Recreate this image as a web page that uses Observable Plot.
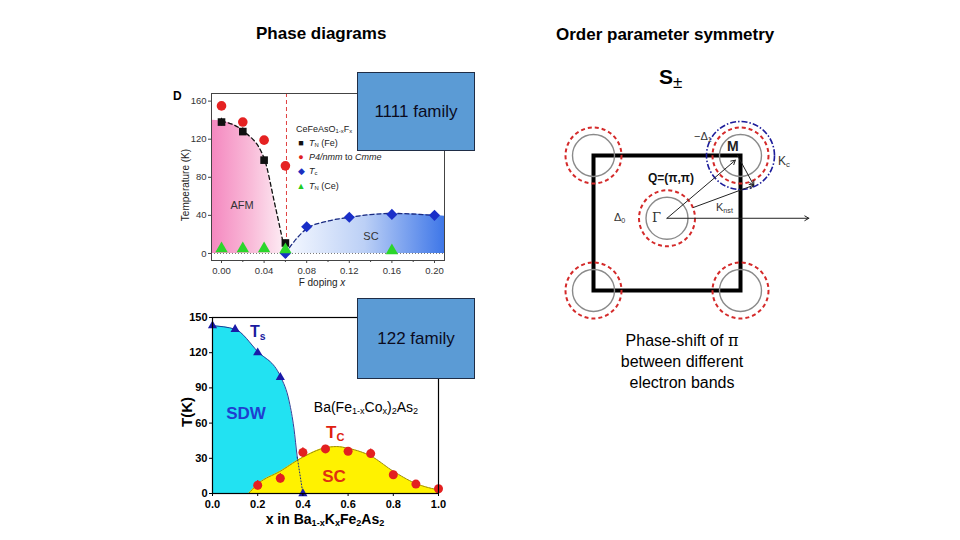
<!DOCTYPE html>
<html><head><meta charset="utf-8">
<script src="https://cdn.jsdelivr.net/npm/d3@7"></script>
<script src="https://cdn.jsdelivr.net/npm/@observablehq/plot@0.6"></script>
<style>
body{margin:0;background:#fff;}
#slide{position:relative;width:960px;height:540px;overflow:hidden;background:#fff;font-family:"Liberation Sans",Arial,sans-serif;color:#000;}
.abs{position:absolute;white-space:nowrap;line-height:1;}
.chart{position:absolute;}
.box{position:absolute;background:#5b9bd5;border:1px solid #1f2d46;box-sizing:border-box;display:flex;align-items:center;justify-content:center;font-size:17px;color:#0b0b1e;z-index:5;}
sub{font-size:65%;vertical-align:-0.25em;line-height:0;}
.lg{position:absolute;font-size:9px;color:#222;white-space:nowrap;line-height:1;}
.sym{display:inline-block;width:10px;text-align:center;margin-right:3px;}
</style></head><body>
<div id="slide">
  <div class="abs" style="left:256px;top:25px;font-size:17px;font-weight:bold;">Phase diagrams</div>
  <div class="abs" style="left:556px;top:26px;font-size:17px;font-weight:bold;">Order parameter symmetry</div>
  <div class="abs" style="left:659px;top:66px;font-size:21px;font-weight:bold;">S<span style="font-size:17px;font-weight:normal;position:relative;top:4px;">±</span></div>

  <div id="topchart" class="chart" style="left:165px;top:80px;"></div>
  <div id="botchart" class="chart" style="left:170px;top:300px;"></div>
  <div id="bzchart" class="chart" style="left:550px;top:100px;"></div>

  <!-- top chart text -->
  <div class="abs" style="left:173px;top:90px;font-size:12px;font-weight:bold;">D</div>
  <div class="abs" style="left:186px;top:185px;font-size:10px;color:#222;transform:translate(-50%,-50%) rotate(-90deg);">Temperature (K)</div>
  <div class="abs" style="left:322px;top:283px;font-size:10px;color:#222;transform:translate(-50%,-50%);">F doping <i>x</i></div>
  <div class="abs" style="left:242px;top:205px;font-size:11px;color:#333;transform:translate(-50%,-50%);">AFM</div>
  <div class="abs" style="left:371px;top:236px;font-size:11px;color:#333;transform:translate(-50%,-50%);">SC</div>
  <div class="lg" style="left:296px;top:125px;">CeFeAsO<sub>1-x</sub>F<sub>x</sub></div>
  <div class="lg" style="left:296px;top:139px;"><span class="sym" style="color:#111;">■</span><i>T</i><sub>N</sub> (Fe)</div>
  <div class="lg" style="left:296px;top:153px;"><span class="sym" style="color:#e02020;">●</span><i>P4/nmm</i> to <i>Cmme</i></div>
  <div class="lg" style="left:296px;top:167px;"><span class="sym" style="color:#1a2fbf;">◆</span><i>T</i><sub>c</sub></div>
  <div class="lg" style="left:296px;top:182px;"><span class="sym" style="color:#22cc22;">▲</span><i>T</i><sub>N</sub> (Ce)</div>

  <!-- bottom chart text -->
  <div class="abs" style="left:186px;top:412px;font-size:15px;font-weight:bold;transform:translate(-50%,-50%) rotate(-90deg);">T(K)</div>
  <div class="abs" style="left:325px;top:519px;font-size:14px;font-weight:bold;transform:translate(-50%,-50%);">x in Ba<sub>1-x</sub>K<sub>x</sub>Fe<sub>2</sub>As<sub>2</sub></div>
  <div class="abs" style="left:250px;top:324px;font-size:16px;font-weight:bold;color:#1a1aa0;">T<sub>s</sub></div>
  <div class="abs" style="left:246px;top:413px;font-size:17px;font-weight:bold;color:#1f3fcf;transform:translate(-50%,-50%);">SDW</div>
  <div class="abs" style="left:326px;top:424px;font-size:17px;font-weight:bold;color:#e02010;">T<sub>C</sub></div>
  <div class="abs" style="left:334px;top:476px;font-size:17px;font-weight:bold;color:#e03010;transform:translate(-50%,-50%);">SC</div>
  <div class="abs" style="left:366px;top:407px;font-size:14px;transform:translate(-50%,-50%);">Ba(Fe<sub>1-x</sub>Co<sub>x</sub>)<sub>2</sub>As<sub>2</sub></div>

  <!-- family boxes -->
  <div class="box" style="left:357px;top:72px;width:118px;height:79px;">1111 family</div>
  <div class="box" style="left:357px;top:298px;width:118px;height:81px;">122 family</div>

  <!-- BZ labels -->
  <div class="abs" style="left:694px;top:131px;font-size:11px;color:#333;">−Δ<sub>1</sub></div>
  <div class="abs" style="left:727px;top:139px;font-size:14px;font-weight:bold;color:#222;">M</div>
  <div class="abs" style="left:778px;top:155px;font-size:12px;color:#333;">K<sub>c</sub></div>
  <div class="abs" style="left:671px;top:178px;font-size:12px;font-weight:bold;color:#111;transform:translate(-50%,-50%);">Q=(π,π)</div>
  <div class="abs" style="left:716px;top:202px;font-size:11px;color:#333;">K<sub>nst</sub></div>
  <div class="abs" style="left:614px;top:212px;font-size:11px;color:#333;">Δ<sub>0</sub></div>
  <div class="abs" style="left:652px;top:211px;font-size:13px;color:#333;font-family:'DejaVu Serif',serif;">Γ</div>

  <div class="abs" style="left:682px;top:341px;font-size:16px;transform:translate(-50%,-50%);">Phase-shift of <span style="font-family:'DejaVu Serif',serif;">π</span></div>
  <div class="abs" style="left:682px;top:362px;font-size:16px;transform:translate(-50%,-50%);">between different</div>
  <div class="abs" style="left:682px;top:383px;font-size:16px;transform:translate(-50%,-50%);">electron bands</div>
</div>
<script>
// ---------- Top: CeFeAsO1-xFx phase diagram ----------
const xTN = [0, 0.02, 0.04, 0.06];
const tTN = [138, 128, 98, 11];
const eTN = [4, 4, 3, 3];
const xStruct = [0, 0.02, 0.04, 0.06];
const tStruct = [155, 138, 119, 92];
const eStruct = [3, 3, 3, 3];
const xTc1111 = [0.06, 0.08, 0.12, 0.16, 0.20];
const tTc1111 = [0, 28, 38, 41, 40];
const xTNCe = [0, 0.02, 0.04, 0.06, 0.16];
const tTNCe = [5, 5, 5, 4, 3];
const xAFM = [-0.0094, 0, 0.02, 0.04, 0.05, 0.06];
const tAFM = [140, 139, 129, 100, 52, 0];
const xSC1111 = [0.06, 0.07, 0.08, 0.10, 0.12, 0.16, 0.20, 0.2094];
const tSC1111 = [0, 15, 26, 34, 38, 42, 40, 39];
const xTicksTop = [0, 0.04, 0.08, 0.12, 0.16, 0.20];
const xMinorTop = [0.02, 0.06, 0.10, 0.14, 0.18];
const yTicksTop = [0, 40, 80, 120, 160];
const xSplit = 0.061;

// ---------- Bottom: Ba1-xKxFe2As2 phase diagram ----------
const xTs = [0, 0.1, 0.2, 0.3, 0.4];
const tTs = [143, 140, 120, 99, 0];
const xTc122 = [0.2, 0.3, 0.4, 0.5, 0.6, 0.7, 0.8, 0.9, 1.0];
const tTc122 = [7, 13, 35, 38, 36, 34, 16, 8, 4];
const eTc122 = [4, 4, 4, 3, 2, 4, 3, 2, 2];
const xSDW = [0, 0.1, 0.2, 0.3, 0.34, 0.36, 0.375, 0.4];
const tSDW = [143, 140, 121, 100, 78, 56, 31, 0];
const xDome = [0.16, 0.2, 0.3, 0.4, 0.5, 0.55, 0.6, 0.7, 0.8, 0.9, 1.0];
const tDome = [0, 8, 19, 31, 39, 40, 38.5, 32, 19, 8.5, 3];
const xTicksBot = [0, 0.2, 0.4, 0.6, 0.8, 1.0];
const yTicksBot = [0, 30, 60, 90, 120, 150];

// ---------- Right: Brillouin zone schematic (k units) ----------
const cornerKx = [-1, 1, -1, 1];
const cornerKy = [1, 1, -1, -1];
const gammaKx = [0];
const gammaKy = [0.07];
const mKx = [1];
const mKy = [1];
const arrowX1 = [0, 0, 0.36, 0.96];
const arrowY1 = [0.07, 0.07, 0.23, 1.0];
const arrowX2 = [0.93, 1.93, 1.18, 1.18];
const arrowY2 = [0.93, 0.07, 0.56, 0.56];

const zip = (xs, ys, extra) => xs.map((x, i) => ({x, y: ys[i], e: extra ? extra[i] : 0}));
const FONT = '"Liberation Sans", Arial, sans-serif';

function addDefs(svg, html) {
  const defs = document.createElementNS("http://www.w3.org/2000/svg", "defs");
  defs.innerHTML = html;
  svg.insertBefore(defs, svg.firstChild);
}

// Top chart
{
  const afm = zip(xAFM, tAFM);
  const sc = zip(xSC1111, tSC1111);
  const tn = zip(xTN, tTN, eTN);
  const st = zip(xStruct, tStruct, eStruct);
  const tc = zip(xTc1111, tTc1111);
  const ce = zip(xTNCe, tTNCe);
  const svg = Plot.plot({
    width: 290, height: 212,
    marginLeft: 46, marginRight: 11, marginTop: 13, marginBottom: 32,
    x: {domain: [-0.0094, 0.2094]},
    y: {domain: [-7.4, 168]},
    style: {fontFamily: FONT, fontSize: "9.5px", color: "#333", background: "transparent"},
    marks: [
      Plot.areaY(afm, {x: "x", y: "y", fill: "url(#pinkGrad)", curve: "monotone-x"}),
      Plot.areaY(sc, {x: "x", y: "y", fill: "url(#blueGrad)", curve: "monotone-x"}),
      Plot.ruleY([0], {stroke: "#777", strokeDasharray: "1,2"}),
      Plot.ruleX([xSplit], {stroke: "#e04040", strokeDasharray: "4,3", strokeWidth: 1}),
      Plot.line(afm.filter(d => d.x >= 0), {x: "x", y: "y", stroke: "#111", strokeDasharray: "4,3", strokeWidth: 1.3, curve: "monotone-x"}),
      Plot.line(sc.filter(d => d.x <= 0.2), {x: "x", y: "y", stroke: "#1a2a80", strokeDasharray: "4,3", strokeWidth: 1.3, curve: "monotone-x"}),
      Plot.ruleX(st, {x: "x", y1: d => d.y - d.e, y2: d => d.y + d.e, stroke: "#e02020"}),
      Plot.ruleX(tn, {x: "x", y1: d => d.y - d.e, y2: d => d.y + d.e, stroke: "#111"}),
      Plot.dot(st, {x: "x", y: "y", r: 4.8, fill: "#e52222", symbol: "circle"}),
      Plot.dot(tn, {x: "x", y: "y", r: 4.3, fill: "#111", symbol: "square"}),
      Plot.dot(tc, {x: "x", y: "y", r: 5, fill: "#1a2fc8", symbol: "diamond2"}),
      Plot.dot(ce, {x: "x", y: "y", r: 4.6, fill: "#2bd62b", symbol: "triangle"}),
      Plot.frame({stroke: "#444", strokeWidth: 1}),
      Plot.axisX({ticks: xTicksTop, tickFormat: d3.format(".2f"), label: null, tickSize: 3, tickPadding: 4, stroke: "#444"}),
      Plot.axisX({ticks: xMinorTop, tickFormat: () => "", label: null, tickSize: 2, stroke: "#444"}),
      Plot.axisY({ticks: yTicksTop, tickFormat: d3.format("d"), label: null, tickSize: 3, tickPadding: 2, stroke: "#444"})
    ]
  });
  addDefs(svg, `
    <linearGradient id="pinkGrad" x1="0" y1="0" x2="1" y2="0">
      <stop offset="0" stop-color="#f487bf"/>
      <stop offset="0.55" stop-color="#f9bcd9"/>
      <stop offset="1" stop-color="#fdeef5"/>
    </linearGradient>
    <linearGradient id="blueGrad" x1="0" y1="0" x2="1" y2="0">
      <stop offset="0" stop-color="#f6f9ff"/>
      <stop offset="0.5" stop-color="#bcd0f6"/>
      <stop offset="1" stop-color="#3f77e8"/>
    </linearGradient>`);
  document.getElementById("topchart").append(svg);
}

// Bottom chart
{
  const sdw = zip(xSDW, tSDW);
  const dome = zip(xDome, tDome);
  const ts = zip(xTs, tTs);
  const tc = zip(xTc122, tTc122, eTc122);
  const svg = Plot.plot({
    width: 280, height: 232,
    marginLeft: 42, marginRight: 12, marginTop: 17, marginBottom: 39,
    x: {domain: [0, 1]},
    y: {domain: [0, 150]},
    style: {fontFamily: FONT, fontSize: "11px", fontWeight: "bold", color: "#000", background: "transparent"},
    marks: [
      Plot.areaY(sdw, {x: "x", y: "y", fill: "#22e2f2", curve: "monotone-x"}),
      Plot.line(sdw, {x: "x", y: "y", stroke: "#1a2a8a", strokeWidth: 0.9, curve: "monotone-x"}),
      Plot.areaY(dome, {x: "x", y: "y", fill: "#fff200", curve: "monotone-x"}),
      Plot.line(dome, {x: "x", y: "y", stroke: "#8c7a10", strokeWidth: 0.9, strokeDasharray: "2,1", curve: "monotone-x"}),
      Plot.line(sdw.filter(d => d.y <= 31), {x: "x", y: "y", stroke: "#1a2a8a", strokeWidth: 1, strokeDasharray: "1,2", curve: "monotone-x"}),
      Plot.ruleX(tc, {x: "x", y1: d => d.y - d.e, y2: d => d.y + d.e, stroke: "#d81e1e", strokeWidth: 1.2}),
      Plot.dot(tc, {x: "x", y: "y", r: 4.5, fill: "#e32020"}),
      Plot.dot(ts, {x: "x", y: "y", r: 3.4, fill: "#1a1aa8", symbol: "triangle"}),
      Plot.frame({stroke: "#000", strokeWidth: 1.2}),
      Plot.axisX({ticks: xTicksBot, tickFormat: d3.format(".1f"), label: null, tickSize: 3, tickPadding: 4}),
      Plot.axisY({ticks: yTicksBot, tickFormat: d3.format("d"), label: null, tickSize: 3, tickPadding: 2})
    ]
  });
  document.getElementById("botchart").append(svg);
}

// Right: BZ schematic
{
  const corners = zip(cornerKx, cornerKy);
  const gamma = zip(gammaKx, gammaKy);
  const m = zip(mKx, mKy);
  const arrows = arrowX1.map((x1, i) => ({x1, y1: arrowY1[i], x2: arrowX2[i], y2: arrowY2[i]}));
  const rings = corners.concat(gamma);
  const svg = Plot.plot({
    width: 280, height: 230,
    marginLeft: 43, marginRight: 90, marginTop: 55, marginBottom: 40,
    x: {domain: [-1, 1], axis: null},
    y: {domain: [-1, 1], axis: null},
    style: {fontFamily: FONT, background: "transparent"},
    marks: [
      Plot.frame({stroke: "#000", strokeWidth: 4}),
      Plot.dot(rings, {x: "x", y: "y", r: 21, stroke: "#8a8a8a", strokeWidth: 1.4, fill: "none"}),
      Plot.dot(rings, {x: "x", y: "y", r: 28, stroke: "#d42a2a", strokeWidth: 2, strokeDasharray: "4,3", fill: "none"}),
      Plot.dot(m, {x: "x", y: "y", r: 34, stroke: "#1c1c9a", strokeWidth: 1.6, strokeDasharray: "6,2,1.5,2", fill: "none"}),
      Plot.arrow(arrows, {x1: "x1", y1: "y1", x2: "x2", y2: "y2", stroke: "#222", strokeWidth: 1, headLength: 7})
    ]
  });
  document.getElementById("bzchart").append(svg);
}
</script>
</body></html>
